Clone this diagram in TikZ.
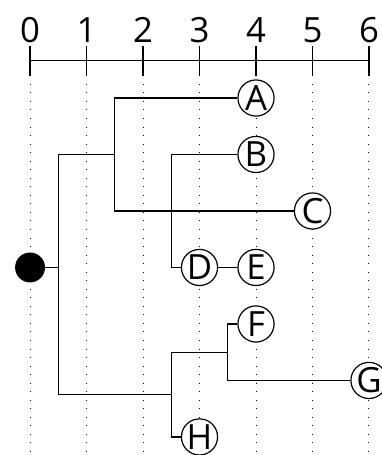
\documentclass[tikz,border=0pt]{standalone}
\usepackage{fontspec}
\setmainfont{Open Sans}
\usepackage{tikz}
\usetikzlibrary{positioning}

\begin{document}
\begin{tikzpicture}
	% Styles
	[
	x=1cm, y=-1cm,
	every node/.style={font=\fontsize{17.5}{20}\selectfont},
	leaf/.style={circle,draw,line width=0.6pt,fill=white,inner sep=0pt,minimum size=6.4mm},
	rootdot/.style={circle,fill=black,inner sep=0pt,minimum size=5.3mm},
	branch/.style={line width=0.6pt},
	gridline/.style={line width=0.5pt,dash pattern=on 0.5pt off 3.8pt},
	]
	\useasboundingbox (-0.532,-0.735) rectangle (6.223,7.32);

	% Scale
	\draw[branch] (0,0.33) -- (6,0.33);
	\foreach \i in {0,...,6} {
		\draw[branch] (\i,0.08) -- (\i,0.61);
		\node at (\i,-0.2) (t\i) {\i};
		\draw[gridline] (\i,0.75) -- (\i,7.32);
	}

	% Nodes
	\node at (0,4)		(root)	[rootdot] {};
	\node at (4,1)		(A)	[leaf] {A};
	\node at (4,2)		(B)	[leaf] {B};
	\node at (5,3)		(C)	[leaf] {C};
	\node at (3,4)		(D)	[leaf] {D};
	\node at (4,4)		(E)	[leaf] {E};
	\node at (4,5)		(F)	[leaf] {F};
	\node at (6,6)		(G)	[leaf] {G};
	\node at (3,7)		(H)	[leaf] {H};

	\coordinate (j0) at (0.5,4);
	\coordinate (j1) at (1.5,2);
	\coordinate (j2) at (2.5,3);
	\coordinate (j3) at (2.5,6.25);
	\coordinate (j4) at (3.5,5.5);

	% Connections
	\draw[branch] (root) -- (j0);
	\draw[branch] (j0) |- (j1);
	\draw[branch] (j0) |- (j3);
	\draw[branch] (j1) |- (A);
	\draw[branch] (j1) |- (C);
	\draw[branch] (j2) |- (B);
	\draw[branch] (j2) |- (D);
	\draw[branch] (D) -- (E);
	\draw[branch] (j3) |- (j4);
	\draw[branch] (j3) |- (H);
	\draw[branch] (j4) |- (F);
	\draw[branch] (j4) |- (G);

\end{tikzpicture}
\end{document}
